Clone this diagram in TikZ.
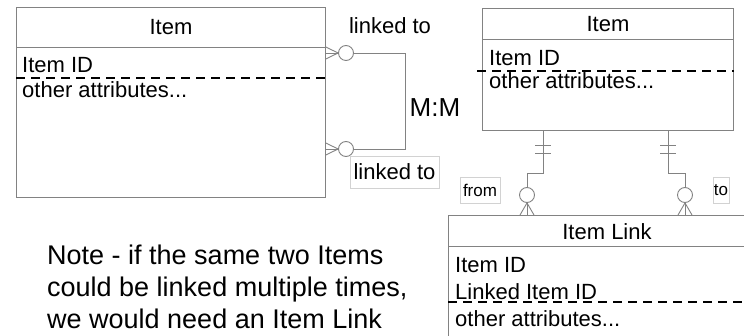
\documentclass[tikz,border=0pt]{standalone}
\usepackage{fontspec}
\setmainfont{Liberation Sans}
\usetikzlibrary{positioning,calc}
\definecolor{linegray}{RGB}{130,130,130}
\definecolor{labelgray}{RGB}{210,210,210}

\begin{document}
\begin{tikzpicture}[x=1pt,y=-1pt,
  every node/.style={font=\fontsize{22}{26}\selectfont,inner sep=0pt},
  entity/.style={draw=linegray,line width=0.9pt,anchor=north west},
  conn/.style={draw=linegray,line width=0.9pt},
  ring/.style={circle,draw=linegray,line width=0.9pt,fill=white,minimum size=15pt},
  keyline/.style={line width=1.1pt,dash pattern=on 9pt off 6pt},
  attr/.style={anchor=base west},
  tag/.style={draw=labelgray,line width=0.8pt}]
\useasboundingbox (0,0) rectangle (744,336);
% entities
\node[entity,minimum width=309pt,minimum height=190pt] (L) at (16,7) {};
\node[entity,minimum width=251pt,minimum height=122pt] (R) at (482,8) {};
\node[entity,minimum width=310pt,minimum height=140pt] (K) at (448,215) {};
\draw[conn] ($(L.north west)+(0,40)$) -- ($(L.north east)+(0,40)$);
\draw[conn] ($(R.north west)+(0,31)$) -- ($(R.north east)+(0,31)$);
\draw[conn] ($(K.north west)+(0,31)$) -- ($(K.north east)+(0,31)$);
\node (Lt) at ($(L.north)+(0,20)$) {Item};
\node (Rt) at ($(R.north)+(0,16)$) {Item};
\node (Kt) at (607,232) {Item Link};
\node[attr] (Lid) at (22,73) {Item ID};
\node[attr] (Loth) at (22,98) {other attributes...};
\node[attr] (Rid) at (489,66) {Item ID};
\node[attr] (Roth) at (489,89) {other attributes...};
\node[attr] (Kid) at (455,273) {Item ID};
\node[attr] (Klink) at (455,300) {Linked Item ID};
\node[attr] (Koth) at (455,327) {other attributes...};
\draw[keyline] (L.west |- 0,78) -- (L.east |- 0,78);
\draw[keyline] (477,71) -- (R.east |- 0,71);
\draw[keyline] (K.west |- 0,302) -- (750,302);
% M:M self link
\node[ring] (uc) at (346,53) {};
\node[ring] (lc) at (346,149) {};
\coordinate (ue) at (L.east |- uc);
\coordinate (le) at (L.east |- lc);
\coordinate (mmtop) at (405,53);
\coordinate (mmbot) at (405,149);
\draw[conn] (uc.west) -- (ue);
\draw[conn] (uc.west) -- ($(ue)+(0,-6)$);
\draw[conn] (uc.west) -- ($(ue)+(0,6)$);
\draw[conn] (lc.west) -- (le);
\draw[conn] (lc.west) -- ($(le)+(0,-6)$);
\draw[conn] (lc.west) -- ($(le)+(0,6)$);
\draw[conn] (uc.east) -- (mmtop) -- (mmbot) -- (lc.east);
\node (lk1) at (390,26) {linked to};
\node[tag,minimum width=89pt,minimum height=32pt] (lk2) at (394.5,172) {linked to};
\node[font=\fontsize{26}{30}\selectfont] (mm) at (435,108) {M:M};
% from / to
\node[ring] (fc) at (527,195) {};
\node[ring] (tc) at (685,195) {};
\coordinate (fa) at (R.south -| 543,0);
\coordinate (fb) at (543,173);
\coordinate (ta) at (R.south -| 668,0);
\coordinate (tb) at (668,173);
\draw[conn] (fa) -- (fb) -| (fc.north);
\draw[conn] (ta) -- (tb) -| (tc.north);
\draw[conn] ($(fa)+(-8,15)$) -- ++(16,0);
\draw[conn] ($(fa)+(-8,23)$) -- ++(16,0);
\draw[conn] ($(ta)+(-8,15)$) -- ++(16,0);
\draw[conn] ($(ta)+(-8,23)$) -- ++(16,0);
\draw[conn] (fc.south) -- (K.north -| fc);
\draw[conn] (fc.south) -- ($(K.north -| fc)+(-7,0)$);
\draw[conn] (fc.south) -- ($(K.north -| fc)+(7,0)$);
\draw[conn] (tc.south) -- (K.north -| tc);
\draw[conn] (tc.south) -- ($(K.north -| tc)+(-7,0)$);
\draw[conn] (tc.south) -- ($(K.north -| tc)+(7,0)$);
\node[tag,minimum width=40pt,minimum height=26pt,font=\fontsize{17}{20}\selectfont] (from) at (480,190) {from};
\node[tag,minimum width=16pt,minimum height=26pt,font=\fontsize{17}{20}\selectfont] (to) at (721,190) {to};
% note
\node[anchor=base west,align=left,font=\fontsize{27}{32}\selectfont] (note) at (47,329)
  {Note - if the same two Items\\could be linked multiple times,\\we would need an Item Link};
\end{tikzpicture}
\end{document}
